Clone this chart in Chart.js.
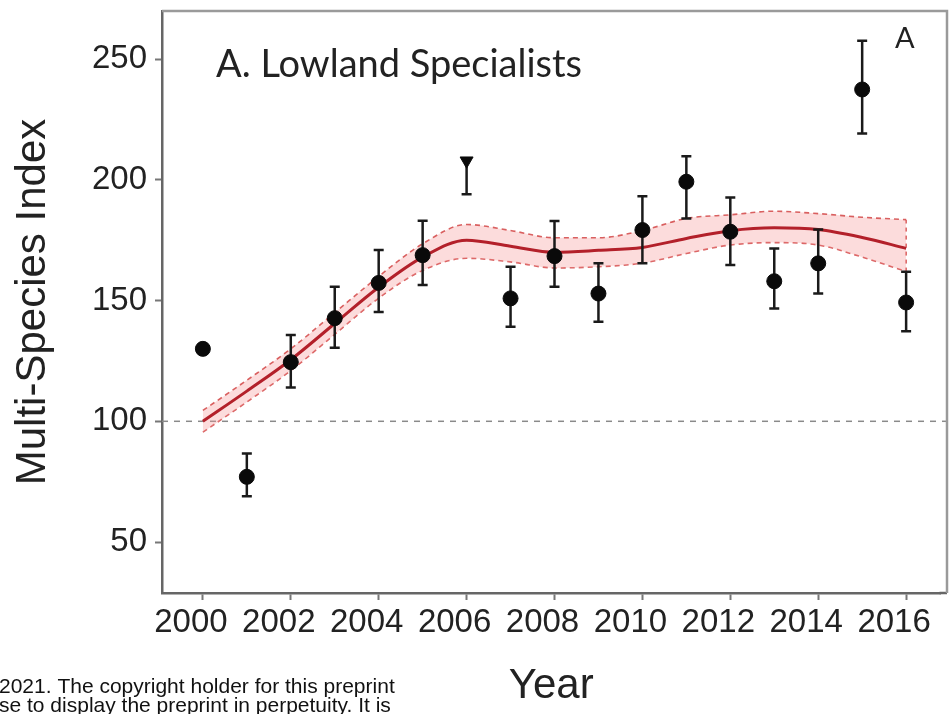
<!DOCTYPE html>
<html>
<head>
<meta charset="utf-8">
<script src="https://cdn.jsdelivr.net/npm/chart.js@4/dist/chart.umd.min.js"></script>
<style>
  html, body { margin: 0; padding: 0; background: #fff; }
  #wrap { position: relative; width: 949px; height: 714px; }
</style>
</head>
<body>
<div id="wrap"><canvas id="msiChart" width="949" height="714"></canvas></div>
<script>
var YEARS = [2000, 2001, 2002, 2003, 2004, 2005, 2006, 2007, 2008, 2009, 2010, 2011, 2012, 2013, 2014, 2015, 2016];
// yearly index with its interval
var MSI      = [130, 77, 124.5, 142.7, 157.3, 168.8, 207.9, 150.9, 168.4, 152.9, 179.2, 199.2, 178.5, 158, 165.4, 237.4, 149.2];
var MSI_LOW  = [130, 69, 114, 130.5, 145.3, 156.4, 194, 139.1, 155.7, 141.2, 165.4, 184, 164.7, 146.7, 152.9, 219.2, 137.3];
var MSI_HIGH = [130, 86.7, 135.7, 155.7, 170.9, 183, 207.9, 164, 182.9, 165.4, 193.2, 209.8, 192.7, 171.6, 179.4, 257.6, 161.9];
// smoothed trend and its band
var TREND      = [100, 112.5, 125.5, 140.5, 155.5, 168, 175, 172.5, 170, 170.8, 172, 175.7, 178.9, 180.1, 179.4, 176.1, 171.6];
var TREND_LOW  = [95.5, 108, 121, 136, 151, 162.5, 167.5, 166, 163.5, 164, 165.5, 169.5, 173, 174, 173, 168, 162];
var TREND_HIGH = [104.5, 117, 130, 145, 160, 173.5, 181.5, 179, 176, 176, 179, 184, 185.5, 187, 186, 184.5, 183.5];
var X_TICKS = [2000, 2002, 2004, 2006, 2008, 2010, 2012, 2014, 2016];
var Y_TICKS = [50, 100, 150, 200, 250];
var BASELINE = 100;

var SANS = '"Liberation Sans", Arial, sans-serif';
var LABEL_FONT = 'Lato, "Open Sans", sans-serif';
var X_MIN = 1999.07, X_FRAME = 2016.93;
var PLOT_RIGHT = 947;

function pts(ys) {
  return YEARS.map(function (yr, i) { return { x: yr, y: ys[i] }; });
}

function frameRight(chart) {
  return Math.max(chart.chartArea.right, chart.scales.x.getPixelForValue(X_FRAME));
}

var last = YEARS.length - 1;

var extras = {
  id: 'extras',
  beforeDatasetsDraw: function (chart) {
    var c = chart.ctx, a = chart.chartArea;
    var y = chart.scales.y.getPixelForValue(BASELINE);
    c.save();
    c.strokeStyle = '#8a8a8a';
    c.lineWidth = 1.5;
    c.setLineDash([6, 6]);
    c.beginPath();
    c.moveTo(a.left, y);
    c.lineTo(frameRight(chart), y);
    c.stroke();
    c.restore();
  },
  beforeDatasetDraw: function (chart, args) {
    if (args.index !== 0) return;
    var c = chart.ctx, xs = chart.scales.x, ys = chart.scales.y;
    c.save();
    c.strokeStyle = '#1a1a1a';
    c.lineWidth = 2.5;
    YEARS.forEach(function (yr, i) {
      if (MSI_HIGH[i] === MSI_LOW[i]) return;
      var px = xs.getPixelForValue(yr);
      var top = ys.getPixelForValue(MSI_HIGH[i]);
      var bot = ys.getPixelForValue(MSI_LOW[i]);
      c.beginPath();
      c.moveTo(px, top); c.lineTo(px, bot);
      if (MSI_HIGH[i] !== MSI[i]) { c.moveTo(px - 5, top); c.lineTo(px + 5, top); }
      c.moveTo(px - 5, bot); c.lineTo(px + 5, bot);
      c.stroke();
    });
    c.restore();
  },
  afterDraw: function (chart) {
    var c = chart.ctx, a = chart.chartArea;
    var xr = frameRight(chart);
    c.save();
    c.strokeStyle = '#666';
    c.lineWidth = 2.5;
    c.beginPath();
    c.moveTo(a.right - 1, a.bottom); c.lineTo(xr, a.bottom);
    c.stroke();
    c.strokeStyle = '#9a9a9a';
    c.beginPath();
    c.moveTo(a.left, a.top); c.lineTo(xr, a.top); c.lineTo(xr, a.bottom);
    c.stroke();

    c.fillStyle = '#222';
    c.textBaseline = 'alphabetic';
    c.font = '38px ' + LABEL_FONT;
    c.fillText('A. Lowland Specialists', 216, 77);
    c.font = '29px ' + LABEL_FONT;
    c.fillText('A', 895, 48);

    c.fillStyle = '#111';
    c.font = '21px ' + SANS;
    c.fillText('2021. The copyright holder for this preprint', -1, 693);
    c.fillText('se to display the preprint in perpetuity. It is', -1, 712);
    c.restore();
  }
};

var chart = new Chart(document.getElementById('msiChart').getContext('2d'), {
  type: 'scatter',
  data: {
    datasets: [
      {
        label: 'MSI',
        data: pts(MSI),
        backgroundColor: '#0a0a0a',
        borderColor: '#0a0a0a',
        pointRadius: 7.5,
        pointStyle: function (ctx) { return ctx.dataIndex === 6 ? 'triangle' : 'circle'; },
        rotation: function (ctx) { return ctx.dataIndex === 6 ? 180 : 0; }
      },
      {
        label: 'Trend',
        data: pts(TREND),
        showLine: true,
        borderColor: '#b3202a',
        borderWidth: 3,
        pointRadius: 0,
        cubicInterpolationMode: 'monotone',
        fill: false
      },
      {
        label: 'Upper',
        data: pts(TREND_HIGH),
        showLine: true,
        borderColor: 'rgba(210,70,70,0.85)',
        borderWidth: 1.6,
        borderDash: [5, 4],
        pointRadius: 0,
        cubicInterpolationMode: 'monotone',
        backgroundColor: 'rgba(245,150,150,0.33)',
        fill: '+1'
      },
      {
        label: 'Lower',
        data: pts(TREND_LOW),
        showLine: true,
        borderColor: 'rgba(210,70,70,0.85)',
        borderWidth: 1.6,
        borderDash: [5, 4],
        pointRadius: 0,
        cubicInterpolationMode: 'monotone',
        fill: false
      },
      {
        label: 'Band end',
        data: [{ x: YEARS[last], y: TREND_LOW[last] }, { x: YEARS[last], y: TREND_HIGH[last] }],
        showLine: true,
        borderColor: 'rgba(210,70,70,0.85)',
        borderWidth: 1.6,
        borderDash: [4, 4],
        pointRadius: 0,
        fill: false
      }
    ]
  },
  options: {
    responsive: false,
    animation: false,
    layout: { padding: { top: 11, right: 2, left: 0, bottom: 0 } },
    plugins: { legend: { display: false }, tooltip: { enabled: false } },
    scales: {
      x: {
        type: 'linear',
        min: X_MIN,
        max: X_FRAME,
        afterBuildTicks: function (s) { s.ticks = X_TICKS.map(function (v) { return { value: v }; }); },
        afterFit: function (s) { s.height = 121; s.paddingLeft = 0; s.paddingRight = 0; },
        ticks: {
          font: { family: SANS, size: 33 },
          color: '#222',
          padding: 3,
          labelOffset: -12,
          maxRotation: 0,
          autoSkip: false,
          callback: function (v) { return String(v); }
        },
        grid: { drawOnChartArea: false, tickLength: 7, tickColor: '#777', tickWidth: 2 },
        border: { color: '#666', width: 2.5 },
        title: { display: true, text: 'Year', color: '#222', font: { family: SANS, size: 42 }, padding: { top: 0, bottom: 2 } }
      },
      y: {
        min: 28.9,
        max: 269.9,
        afterBuildTicks: function (s) { s.ticks = Y_TICKS.map(function (v) { return { value: v }; }); },
        afterFit: function (s) { s.width = 162; s.paddingTop = 0; s.paddingBottom = 0; },
        ticks: {
          font: { family: SANS, size: 33 },
          color: '#222',
          padding: 8,
          callback: function (v) { return String(v); }
        },
        grid: { drawOnChartArea: false, tickLength: 7, tickColor: '#777', tickWidth: 2 },
        border: { color: '#666', width: 2.5 },
        title: { display: true, text: 'Multi-Species Index', color: '#222', font: { family: SANS, size: 42 }, padding: { top: 8, bottom: 0 } }
      }
    }
  },
  plugins: [extras]
});

// the layout keeps a few pixels for the last tick label; shrink the x range so the years keep
// their spacing, and the frame is drawn out to where the full range ends
var span = chart.chartArea.right - chart.chartArea.left;
var want = PLOT_RIGHT - chart.chartArea.left;
if (span < want - 0.5) {
  chart.options.scales.x.max = X_MIN + (X_FRAME - X_MIN) * span / want;
  chart.update('none');
}
</script>
</body>
</html>
